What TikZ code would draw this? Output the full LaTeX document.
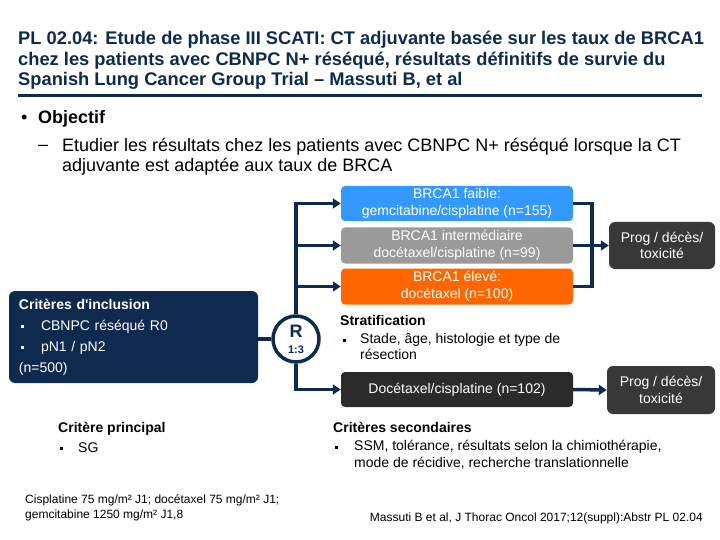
\documentclass[tikz,border=0pt]{standalone}
\usepackage{fontspec}
\setmainfont{Liberation Sans}[Ligatures=TeXOff]
\usetikzlibrary{arrows.meta, calc, positioning}
\definecolor{marine}{HTML}{0E2A4F}
\definecolor{bleu}{HTML}{3399FF}
\definecolor{gris}{HTML}{9A9A9A}
\definecolor{orangevif}{HTML}{FF6600}
\definecolor{sombre}{HTML}{2B2B2B}
\definecolor{anthracite}{HTML}{383838}
\newcommand{\puce}{\rule[0.25ex]{3pt}{3pt}}

\begin{document}
\begin{tikzpicture}[x=1pt, y=-1pt,
    bras/.style={rounded corners=4pt, text=white, minimum width=232pt,
      minimum height=36pt, align=center, inner sep=0pt,
      font=\fontsize{14}{17}\selectfont},
    issue/.style={rounded corners=6pt, fill=anthracite, text=white,
      minimum width=106pt, minimum height=47pt, align=center, inner sep=0pt,
      font=\fontsize{14}{16.5}\selectfont},
    lien/.style={marine, line width=3.5pt},
    fleche/.style={lien, -{Triangle[length=8pt,width=10pt]}},
    texte/.style={anchor=base west, inner sep=0pt}]
  \useasboundingbox (0,0) rectangle (720,540);

  % Titre
  \node[texte, anchor=north west, align=left, text=marine,
        font=\bfseries\fontsize{18.3}{20.5}\selectfont] (titre) at (18,31)
    {PL 02.04: Etude de phase III SCATI: CT adjuvante basée sur les taux de BRCA1\\
     chez les patients avec CBNPC N+ réséqué, résultats définitifs de survie du\\
     Spanish Lung Cancer Group Trial – Massuti B, et al};
  \draw[marine, line width=3pt] (18,96) -- (702,96);

  % Objectif
  \node[texte, font=\fontsize{18}{20}\selectfont] (puce1) at (21,124) {•};
  \node[texte, font=\bfseries\fontsize{18}{20}\selectfont] (objectif) at (38,124) {Objectif};
  \node[texte, font=\fontsize{18}{20}\selectfont] (tiret) at (38,151) {–};
  \node[texte, anchor=north west, align=left, font=\fontsize{18}{20}\selectfont] (etudier) at (62,138)
    {Etudier les résultats chez les patients avec CBNPC N+ réséqué lorsque la CT\\
     adjuvante est adaptée aux taux de BRCA};

  % Bras
  \node[bras, fill=bleu, minimum height=35pt] (faible) at (457,203.5)
    {BRCA1 faible:\\gemcitabine/cisplatine (n=155)};
  \node[bras, fill=gris] (inter) at (457,245.5)
    {BRCA1 intermédiaire\\docétaxel/cisplatine (n=99)};
  \node[bras, fill=orangevif] (eleve) at (457,286.5)
    {BRCA1 élevé:\\docétaxel (n=100)};
  \node[bras, fill=sombre, minimum height=35pt] (doce) at (457,389.5)
    {Docétaxel/cisplatine (n=102)};
  \node[issue] (prog1) at (662,245.5) {Prog / décès/\\toxicité};
  \node[issue, minimum width=108pt, minimum height=48pt] (prog2) at (661,390)
    {Prog / décès/\\toxicité};

  % Inclusion
  \node[rounded corners=6pt, fill=marine, text=white, minimum width=249pt,
        minimum height=92pt, text width=229pt, align=left, inner sep=0pt,
        font=\fontsize{14}{21}\selectfont] (inclusion) at (133.5,337)
    {\textbf{Critères d'inclusion}\\
     \makebox[22pt][l]{\hspace{2pt}\puce}CBNPC réséqué R0\\
     \makebox[22pt][l]{\hspace{2pt}\puce}pN1 / pN2\\
     (n=500)};

  \node[circle, draw=marine, line width=3.5pt, fill=white, minimum size=46pt,
        inner sep=0pt, align=center, text=marine] (R) at (296,339)
    {\bfseries\fontsize{18}{18}\selectfont R\\[4pt]\bfseries\fontsize{11}{11}\selectfont 1:3};

  % Liaisons
  \draw[lien] (R.west) -- (R.west -| inclusion.east);
  \draw[fleche] (R.north) |- (faible.west);
  \draw[fleche] (R.north |- inter.west) -- (inter.west);
  \draw[fleche] (R.north |- eleve.west) -- (eleve.west);
  \draw[fleche] (R.south) |- (doce.west);
  \draw[lien] (faible.east) -- ++(19,0) |- (eleve.east);
  \draw[fleche] (inter.east) -- (prog1.west);
  \draw[fleche] (doce.east) -- (prog2.west);

  % Stratification
  \node[texte, font=\bfseries\fontsize{14}{17}\selectfont] (strat) at (340,325) {Stratification};
  \node[texte, anchor=north west, align=left, font=\fontsize{14}{16}\selectfont] (stade) at (340,333)
    {\makebox[20pt][l]{\hspace{3pt}\puce}Stade, âge, histologie et type de\\
     \hspace*{20pt}résection};

  % Criteres
  \node[texte, font=\bfseries\fontsize{14}{17}\selectfont] (principal) at (58,432) {Critère principal};
  \node[texte, font=\fontsize{14}{17}\selectfont] (sg) at (58,452)
    {\makebox[20pt][l]{\hspace{2pt}\puce}SG};
  \node[texte, font=\bfseries\fontsize{14}{17}\selectfont] (secondaires) at (333,432) {Critères secondaires};
  \node[texte, anchor=north west, align=left, font=\fontsize{14}{17}\selectfont] (ssm) at (333,440)
    {\makebox[21pt][l]{\hspace{2pt}\puce}SSM, tolérance, résultats selon la chimiothérapie,\\
     \hspace*{21pt}mode de récidive, recherche translationnelle};

  % Notes
  \node[texte, anchor=north west, align=left, font=\fontsize{12}{15}\selectfont] (posologie) at (25,494)
    {Cisplatine 75 mg/m² J1; docétaxel 75 mg/m² J1;\\gemcitabine 1250 mg/m² J1,8};
  \node[texte, anchor=base east, font=\fontsize{12}{15}\selectfont] (reference) at (703,521)
    {Massuti B et al, J Thorac Oncol 2017;12(suppl):Abstr PL 02.04};
\end{tikzpicture}
\end{document}
